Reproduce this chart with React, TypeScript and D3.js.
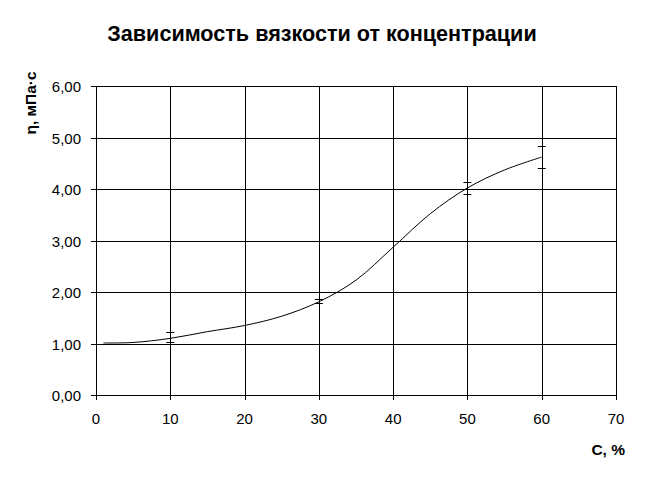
import React from "react";
import * as d3 from "d3";

const concentration = [1, 5, 10, 15, 20, 25, 30, 35, 40, 45, 50, 55, 60];
const viscosity = [1.01, 1.02, 1.1, 1.23, 1.35, 1.53, 1.81, 2.23, 2.87, 3.52, 4.02, 4.37, 4.62];
const errX = [10, 30, 50, 60];
const errLow = [1.03, 1.79, 3.9, 4.41];
const errHigh = [1.22, 1.86, 4.14, 4.83];
const xTicks = [0, 10, 20, 30, 40, 50, 60, 70];
const yTicks = [0, 1, 2, 3, 4, 5, 6];

export default function App() {
  const W = 646, H = 477;
  const x = d3.scaleLinear().domain([0, 70]).range([96, 616]);
  const y = d3.scaleLinear().domain([0, 6]).range([395, 86]);
  const line = d3
    .line<number>()
    .x((_, i) => x(concentration[i]))
    .y((d) => y(d))
    .curve(d3.curveCatmullRom.alpha(0.5));
  const fmt = (v: number) => v.toFixed(2).replace(".", ",");
  const font = "Liberation Sans, Arial, sans-serif";
  return (
    <svg width={W} height={H} style={{ position: "absolute", left: 0, top: 0, background: "#fff" }}>
      <rect width={W} height={H} fill="#fff" />
      <text x={322} y={41} textAnchor="middle" fontFamily={font} fontWeight="bold" fontSize={21.6}>
        Зависимость вязкости от концентрации
      </text>
      {yTicks.map((t) => (
        <g key={"y" + t}>
          <line x1={91} x2={x(70)} y1={Math.round(y(t)) + 0.5} y2={Math.round(y(t)) + 0.5} stroke="#000" />
          <text x={81} y={Math.round(y(t)) + 5.5} textAnchor="end" fontFamily={font} fontSize={15} fill="#000">
            {fmt(t)}
          </text>
        </g>
      ))}
      {xTicks.map((t) => (
        <g key={"x" + t}>
          <line x1={Math.round(x(t)) + 0.5} x2={Math.round(x(t)) + 0.5} y1={y(6)} y2={400} stroke="#000" />
          <text x={x(t)} y={424} textAnchor="middle" fontFamily={font} fontSize={15} fill="#000">
            {t}
          </text>
        </g>
      ))}
      <path d={line(viscosity) || ""} fill="none" stroke="#000" strokeWidth={1} />
      {errX.map((c, i) => (
        <g key={"e" + c}>
          <line x1={Math.round(x(c)) + 0.5} x2={Math.round(x(c)) + 0.5} y1={y(errLow[i])} y2={y(errHigh[i])} stroke="#000" />
          <line x1={x(c) - 4} x2={x(c) + 4} y1={Math.round(y(errLow[i])) + 0.5} y2={Math.round(y(errLow[i])) + 0.5} stroke="#000" />
          <line x1={x(c) - 4} x2={x(c) + 4} y1={Math.round(y(errHigh[i])) + 0.5} y2={Math.round(y(errHigh[i])) + 0.5} stroke="#000" />
        </g>
      ))}
      <text x={625} y={455} textAnchor="end" fontFamily={font} fontWeight="bold" fontSize={15.5}>
        С, %
      </text>
      <text
        transform="translate(36,103) rotate(-90)"
        textAnchor="middle"
        fontFamily={font}
        fontWeight="bold"
        fontSize={15.5}
      >
        η, мПа·с
      </text>
    </svg>
  );
}
